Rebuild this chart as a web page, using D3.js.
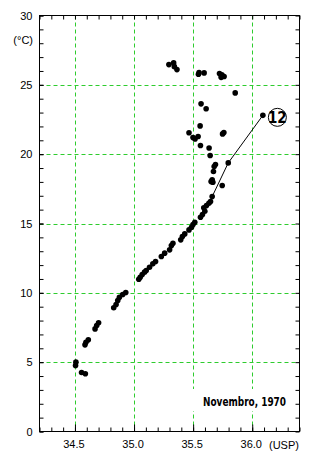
<!DOCTYPE html>
<html><head><meta charset="utf-8">
<script src="https://cdn.jsdelivr.net/npm/d3@7"></script>
<style>
body{margin:0;background:#fff;}
svg{display:block;font-family:"Liberation Sans",Arial,sans-serif;}
</style></head><body>
<svg id="c" width="330" height="457"></svg>
<script>
// Salinity (USP) and temperature (°C) of sampled points
const salinity = [35.295,35.335,35.341,35.363,35.550,35.545,35.593,35.723,35.737,35.762,35.743,35.856,35.567,35.610,35.559,36.090,35.465,35.499,35.516,35.542,35.749,35.760,35.562,35.635,35.644,35.689,35.678,35.672,35.797,35.661,35.652,35.667,35.746,35.661,35.647,35.633,35.613,35.590,35.599,35.579,35.562,35.514,35.499,35.486,35.465,35.429,35.409,35.395,35.329,35.316,35.301,35.259,35.231,35.182,35.159,35.131,35.103,35.089,35.069,35.052,35.040,34.930,34.904,34.876,34.862,34.848,34.828,34.700,34.684,34.670,34.613,34.593,34.585,34.508,34.505,34.556,34.588];
const temperature = [26.46,26.58,26.31,26.10,25.88,25.76,25.86,25.81,25.54,25.60,25.72,24.42,23.63,23.27,22.04,22.80,21.54,21.20,21.10,21.27,21.46,21.56,20.62,20.45,19.90,19.25,19.11,18.75,19.37,18.15,18.02,17.97,17.74,16.94,16.58,16.46,16.29,16.13,15.88,15.65,15.45,15.09,14.92,14.73,14.54,14.25,14.06,13.82,13.58,13.41,13.10,12.86,12.62,12.26,12.09,11.85,11.61,11.49,11.32,11.12,10.98,10.02,9.88,9.68,9.45,9.16,8.92,7.84,7.64,7.40,6.61,6.44,6.25,5.00,4.76,4.25,4.16];
// Station 12 profile line
const stationS = [36.090,35.797,35.661];
const stationT = [22.80,19.37,16.94];
const stationLabel = "12";
const xTicks = [34.5,35.0,35.5,36.0];
const yTicks = [0,5,10,15,20,25,30];
const xUnit = "(USP)", yUnit = "(°C)";
const title = "Novembro, 1970";

const svg = d3.select("#c");
const L=39.5,R=299.5,T=15.5,B=431.5;
const x = d3.scaleLinear().domain([34.2,36.4]).range([L,R]);
const y = d3.scaleLinear().domain([0,30]).range([B,T]);
const green = "#2ecc2e";

// grid
const g = svg.append("g");
g.selectAll(".gx").data(xTicks).join("line")
 .attr("x1",d=>Math.round(x(d))+0.5).attr("x2",d=>Math.round(x(d))+0.5).attr("y1",T).attr("y2",B)
 .attr("stroke",green).attr("stroke-dasharray","4,3");
g.selectAll(".gy").data(yTicks.filter(d=>d>0&&d<30)).join("line")
 .attr("y1",d=>Math.round(y(d))+0.5).attr("y2",d=>Math.round(y(d))+0.5).attr("x1",L).attr("x2",R)
 .attr("stroke",green).attr("stroke-dasharray","4,3");

// axes
const minorX = d3.range(34.2,36.41,0.1).map(v=>+v.toFixed(1));
const minorY = d3.range(0,31,1);
function strip(sel){sel.select(".domain").remove();sel.selectAll("line").attr("stroke","#000");}
svg.append("g").attr("transform",`translate(0,${B})`).call(d3.axisBottom(x).tickValues(minorX).tickSize(-4).tickFormat("")).call(strip);
svg.append("g").attr("transform",`translate(0,${B})`).call(d3.axisBottom(x).tickValues(xTicks).tickSize(-7).tickPadding(9).tickFormat(d3.format(".1f"))).call(strip)
  .selectAll("text").attr("font-size",11).attr("font-family","Liberation Sans, Arial").attr("fill","#000").attr("dx",-1.5);
svg.append("g").attr("transform",`translate(0,${T})`).call(d3.axisTop(x).tickValues(minorX).tickSize(-4).tickFormat("")).call(strip);
svg.append("g").attr("transform",`translate(${L},0)`).call(d3.axisLeft(y).tickValues(minorY).tickSize(-4).tickFormat("")).call(strip);
svg.append("g").attr("transform",`translate(${L},0)`).call(d3.axisLeft(y).tickValues(yTicks).tickSize(-4).tickPadding(7).tickFormat(d3.format("d"))).call(strip)
  .selectAll("text").attr("font-size",11).attr("font-family","Liberation Sans, Arial").attr("fill","#000");
svg.append("g").attr("transform",`translate(${R},0)`).call(d3.axisRight(y).tickValues(minorY).tickSize(-4).tickFormat("")).call(strip);
svg.append("rect").attr("x",L).attr("y",T).attr("width",R-L).attr("height",B-T).attr("fill","none").attr("stroke","#000");

svg.append("text").attr("x",33).attr("y",44).attr("text-anchor","end").attr("font-size",11).text(yUnit);
svg.append("text").attr("x",269).attr("y",448.5).attr("font-size",11).text(xUnit);

// title box
svg.append("rect").attr("x",189).attr("y",389).attr("width",100).attr("height",22).attr("fill","#fff");
svg.append("text").attr("x",203).attr("y",405.5).attr("font-size",13).attr("font-weight","bold")
 .attr("font-family","Liberation Sans Narrow, DejaVu Sans Condensed, sans-serif")
 .attr("textLength",83).attr("lengthAdjust","spacingAndGlyphs").text(title);

// station line
const line = d3.line().x((d,i)=>x(stationS[i])).y((d,i)=>y(stationT[i]));
svg.append("path").datum(stationS).attr("d",line).attr("fill","none").attr("stroke","#000").attr("stroke-width",1);

// points
svg.selectAll("circle.p").data(salinity).join("circle").attr("class","p")
 .attr("cx",d=>x(d)).attr("cy",(d,i)=>y(temperature[i])).attr("r",2.8).attr("fill","#000");

// label 12
const lx = x(stationS[0])+14.5, ly = y(stationT[0])+2;
svg.append("circle").attr("cx",lx).attr("cy",ly).attr("r",9).attr("fill","#fff").attr("stroke","#000");
svg.append("text").attr("x",lx).attr("y",ly+5.5).attr("text-anchor","middle").attr("font-size",15).attr("font-weight","bold")
 .attr("font-family","Liberation Sans Narrow, DejaVu Sans Condensed, sans-serif").text(stationLabel);
</script></body></html>
